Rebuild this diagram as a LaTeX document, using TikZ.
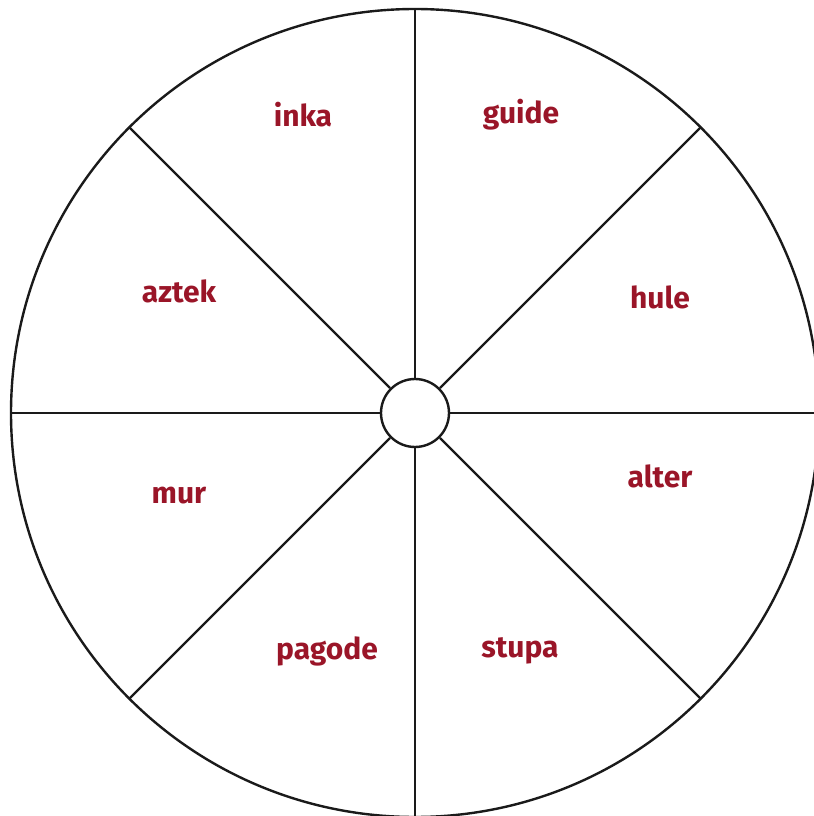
\documentclass[tikz,border=0pt]{standalone}
\usepackage{fontspec}
\setsansfont{Fira Sans}
\usetikzlibrary{positioning}
\definecolor{ink}{HTML}{1A1A1A}
\definecolor{wine}{HTML}{9A1528}
\tikzset{
rim/.style={draw=ink,line width=1.2pt},
spoke/.style={draw=ink,line width=1.2pt},
hubnode/.style={circle,draw=ink,fill=white,line width=1.2pt,minimum size=34pt,inner sep=0pt},
word/.style={font=\sffamily\bfseries\fontsize{15}{18}\selectfont,text=wine}}

\begin{document}
\begin{tikzpicture}[x=.5pt,y=.5pt]
\useasboundingbox (0,0) rectangle (814,816);
\clip (0,0) rectangle (814,816);
\coordinate (c) at (415,403);
\draw[rim] (c) circle (404);
\node[hubnode] (hub) at (c) {};
\foreach \a in {0,45,...,315}{
  \coordinate (edge\a) at ([shift={(c)}]\a:404);
  \draw[spoke] (hub.\a)--(edge\a);
}
% labels, clockwise from the top
\node[word] (inka) at (303,701) {inka};
\node[word] (guide) at (521,701) {guide};
\node[word] (hule) at (660,519) {hule};
\node[word] (alter) at (660,340) {alter};
\node[word] (stupa) at (520,165) {stupa};
\node[word] (pagode) at (327,165) {pagode};
\node[word] (mur) at (179,320) {mur};
\node[word] (aztek) at (179,525) {aztek};
\end{tikzpicture}
\end{document}
